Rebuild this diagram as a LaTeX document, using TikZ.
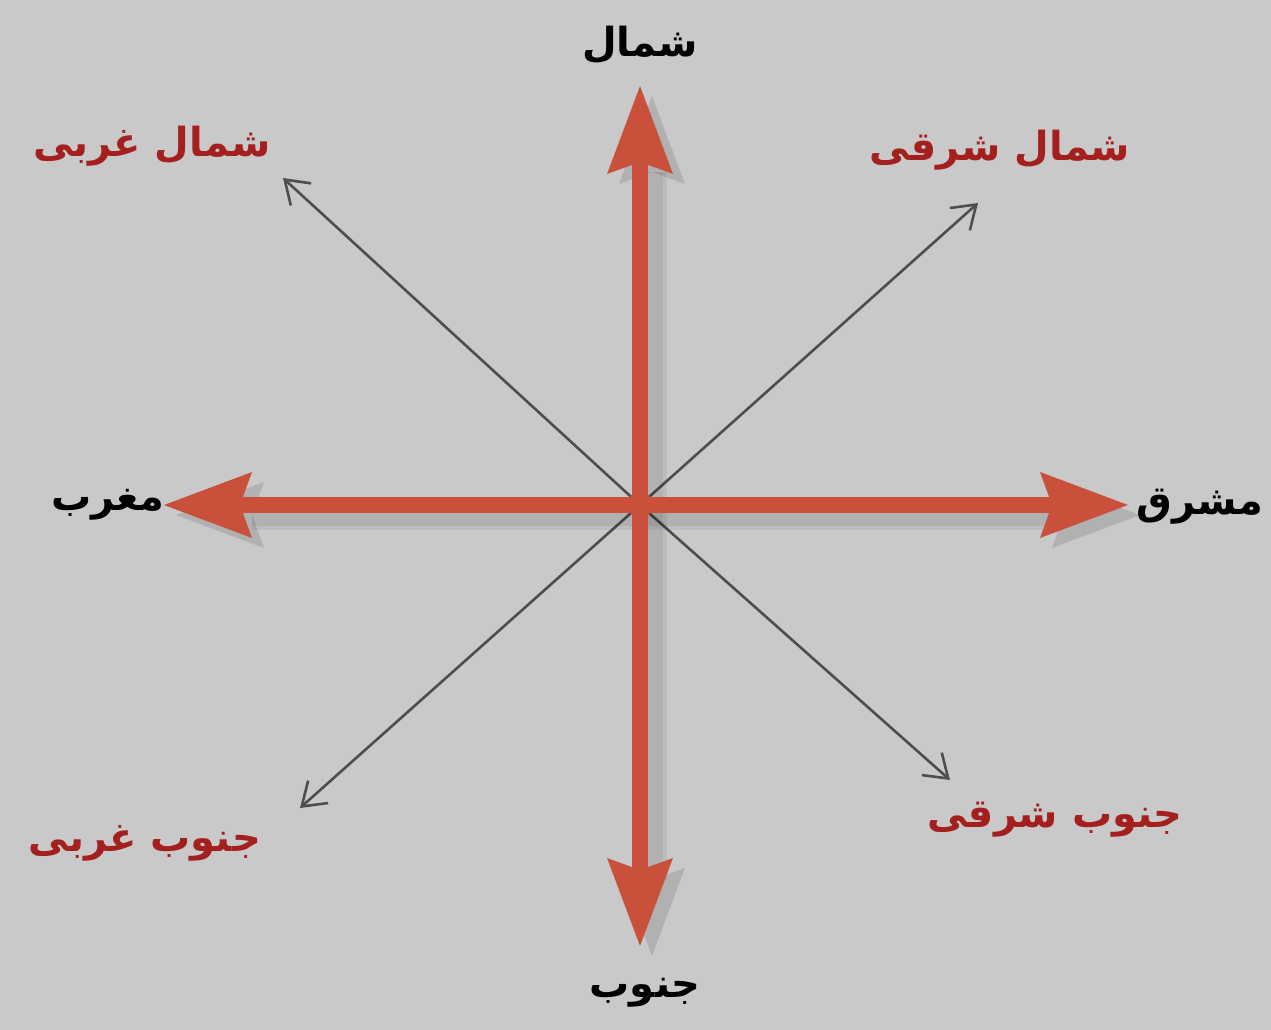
\documentclass[tikz,border=0pt]{standalone}
\usepackage{fontspec}
\usetikzlibrary{arrows.meta}
\TeXXeTstate=1
\newfontfamily\arabicfont[Script=Arabic]{DejaVu Sans}
\definecolor{bgc}{HTML}{C9C9C9}
\definecolor{arrowred}{HTML}{C9503B}
\definecolor{labelred}{HTML}{A3201E}
\definecolor{thin}{HTML}{4E4E4E}
\tikzset{
  bigarrow/.style={draw=arrowred, line width=16pt, -{Stealth[length=88pt,width=66pt,inset=12pt,fill=arrowred,line width=0pt]}},
  shadowarrow/.style={draw=black, draw opacity=0.06, fill opacity=0.06, line width=#1, -{Stealth[length=88pt,width=66pt,inset=12pt,fill=black,line width=0pt]}},
  smallarrow/.style={draw=thin, line width=2.6pt, -{Straight Barb[length=22pt,width=30pt,line width=2.6pt]}},
  lbl/.style={font=\arabicfont\bfseries\fontsize{40}{46}\selectfont, inner sep=0pt},
  blk/.style={lbl, text=black},
  red/.style={lbl, text=labelred},
  sh/.style={xshift=12pt,yshift=-10pt}
}
\begin{document}
\begin{tikzpicture}[x=1pt,y=-1pt]
\fill[bgc] (0,0) rectangle (1271,1030);
\useasboundingbox (0,0) rectangle (1271,1030);
\coordinate (c) at (640,505);
\coordinate (n) at (640,86);
\coordinate (s) at (640,946);
\coordinate (w) at (164,505);
\coordinate (e) at (1128,505);
\coordinate (nw) at (283,178);
\coordinate (ne) at (978,203);
\coordinate (sw) at (300,808);
\coordinate (se) at (950,780);
% thin diagonal arrows
\draw[smallarrow] (c) -- (nw);
\draw[smallarrow] (c) -- (ne);
\draw[smallarrow] (c) -- (sw);
\draw[smallarrow] (c) -- (se);
% soft shadows
\foreach \lw in {30pt,22pt} {
\draw[shadowarrow=\lw] ([sh]c) -- ([sh]n);
\draw[shadowarrow=\lw] ([sh]c) -- ([sh]s);
\draw[shadowarrow=\lw] ([sh]c) -- ([sh]w);
\draw[shadowarrow=\lw] ([sh]c) -- ([sh]e);
}
% red arrows
\draw[bigarrow] (c) -- (n);
\draw[bigarrow] (c) -- (s);
\draw[bigarrow] (c) -- (w);
\draw[bigarrow] (c) -- (e);
\fill[arrowred] (c) circle (13pt);
% labels
\node[blk] (ln) at (640,45) {\beginR شمال\endR};
\node[blk] (ls) at (645,993) {\beginR جنوب\endR};
\node[blk] (lw) at (108,505) {\beginR مغرب\endR};
\node[blk] (le) at (1200,507) {\beginR مشرق\endR};
\node[red] (lnw) at (152,146) {\beginR شمال غربی\endR};
\node[red] (lne) at (1000,150) {\beginR شمال شرقی\endR};
\node[red] (lsw) at (145,843) {\beginR جنوب غربی\endR};
\node[red] (lse) at (1055,820) {\beginR جنوب شرقی\endR};
\end{tikzpicture}
\end{document}
